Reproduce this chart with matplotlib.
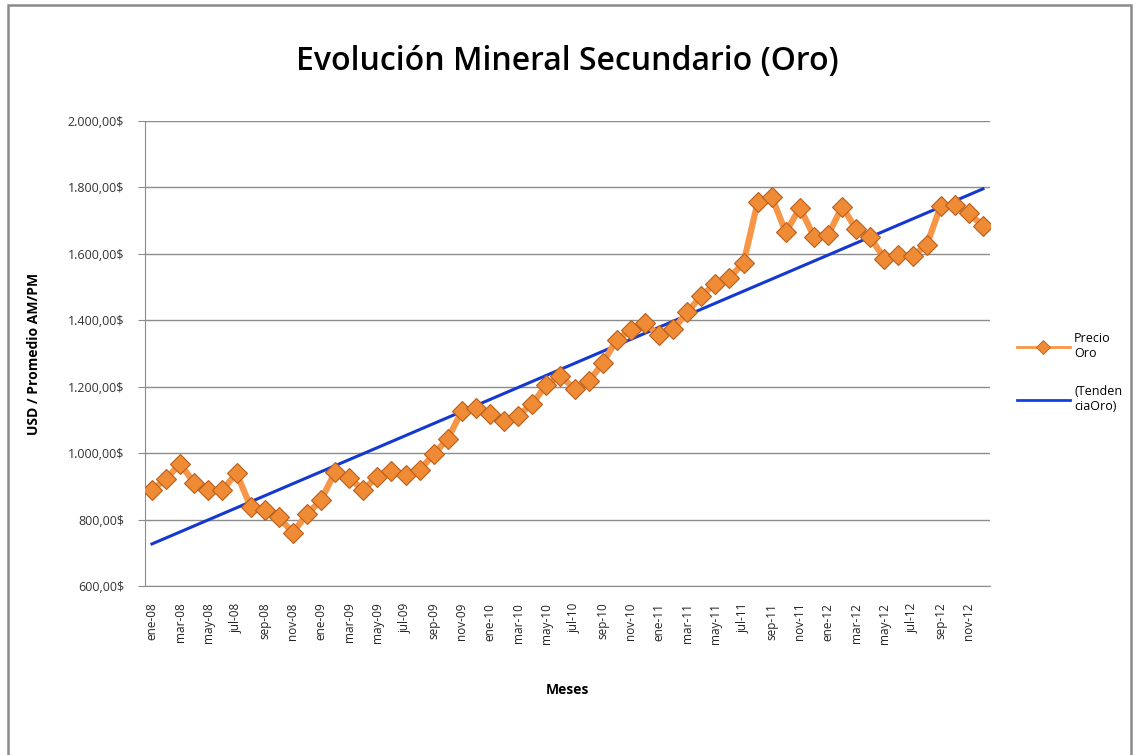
import numpy as np
import matplotlib.pyplot as plt
from matplotlib.patches import Rectangle
from matplotlib.lines import Line2D

# datos mensuales ene-08 .. dic-12 (USD, promedio AM/PM)
meses = ["ene", "feb", "mar", "abr", "may", "jun",
         "jul", "ago", "sep", "oct", "nov", "dic"]
anios = ["08", "09", "10", "11", "12"]
etiquetas = [f"{m}-{a}" for a in anios for m in meses]

precio_2008 = [889.6, 922.3, 968.4, 909.7, 888.7, 889.5, 939.8, 839.0, 829.9, 806.6, 760.9, 816.1]
precio_2009 = [858.7, 943.2, 924.3, 890.2, 928.7, 945.7, 934.2, 949.4, 996.6, 1043.2, 1127.0, 1134.7]
precio_2010 = [1118.0, 1095.4, 1113.3, 1148.7, 1205.4, 1232.9, 1193.0, 1215.8, 1271.0, 1342.0, 1369.9, 1390.6]
precio_2011 = [1356.4, 1372.7, 1424.0, 1473.8, 1510.4, 1528.7, 1572.8, 1755.8, 1771.9, 1665.2, 1739.0, 1652.3]
precio_2012 = [1656.1, 1742.6, 1673.8, 1649.7, 1585.5, 1596.7, 1593.9, 1626.0, 1744.5, 1746.6, 1721.6, 1684.8]
precio = precio_2008 + precio_2009 + precio_2010 + precio_2011 + precio_2012

x = np.arange(len(precio))
# linea de tendencia lineal (como la de Excel)
pend, orig = np.polyfit(x, precio, 1)
tendencia = pend * x + orig

def fmt(v, pos=None):
    s = f"{v:,.2f}".replace(",", "X").replace(".", ",").replace("X", ".")
    return s + "$"

plt.rcParams['font.family'] = ['Open Sans', 'DejaVu Sans']

fig = plt.figure(figsize=(11.36, 7.55), dpi=100)
ax = fig.add_axes([0.1276, 0.2238, 0.8715 - 0.1276, 0.8397 - 0.2238])

ax.plot(x, tendencia, color="#1538d0", lw=2.2, zorder=3)
ax.plot(x, precio, color="#F79646", lw=4.5, marker="D", markersize=10,
        markerfacecolor="#EF8A35", markeredgecolor="#B85F1E", markeredgewidth=0.8,
        zorder=4)

ax.set_xlim(-0.5, len(precio) - 0.5)
ax.set_ylim(600, 2000)
ax.set_yticks(np.arange(600, 2001, 200))
ax.yaxis.set_major_formatter(plt.FuncFormatter(fmt))
ax.grid(axis="y", color="#8c8c8c", lw=1)
ax.set_axisbelow(True)

ax.set_xticks(x[::2])
ax.set_xticklabels(etiquetas[::2], rotation=90, fontsize=8.5, color="#222222")
ax.tick_params(axis="x", length=0, pad=12)
ax.tick_params(axis="y", labelsize=9, labelcolor="#333333", length=5,
               color="#8c8c8c", pad=10)

for s in ["top", "right"]:
    ax.spines[s].set_visible(False)
for s in ["left", "bottom"]:
    ax.spines[s].set_color("#8c8c8c")

ax.set_title("Evolución Mineral Secundario (Oro)", fontsize=23, fontweight="semibold",
             pad=37)
ax.set_ylabel("USD / Promedio AM/PM", fontsize=10, fontweight="bold", labelpad=19)
ax.set_xlabel("Meses", fontsize=10, fontweight="bold", labelpad=28)

handles = [
    Line2D([], [], color="#F79646", lw=2, marker="D", markersize=7,
           markerfacecolor="#EF8A35", markeredgecolor="#B85F1E", markeredgewidth=0.6),
    Line2D([], [], color="#1040e8", lw=2),
]
fig.legend(handles, ["Precio\nOro", "(Tenden\nciaOro)"], loc="upper left",
           bbox_to_anchor=(0.885, 0.575), frameon=False, fontsize=9,
           handlelength=4.3, labelspacing=2.0, handletextpad=0.3)

fig.patches.append(Rectangle((0.007, -0.01), 0.989, 1.003, transform=fig.transFigure,
                             fill=False, edgecolor="#8a8a8a", lw=1.8))

fig.savefig("out.png", dpi=100)
